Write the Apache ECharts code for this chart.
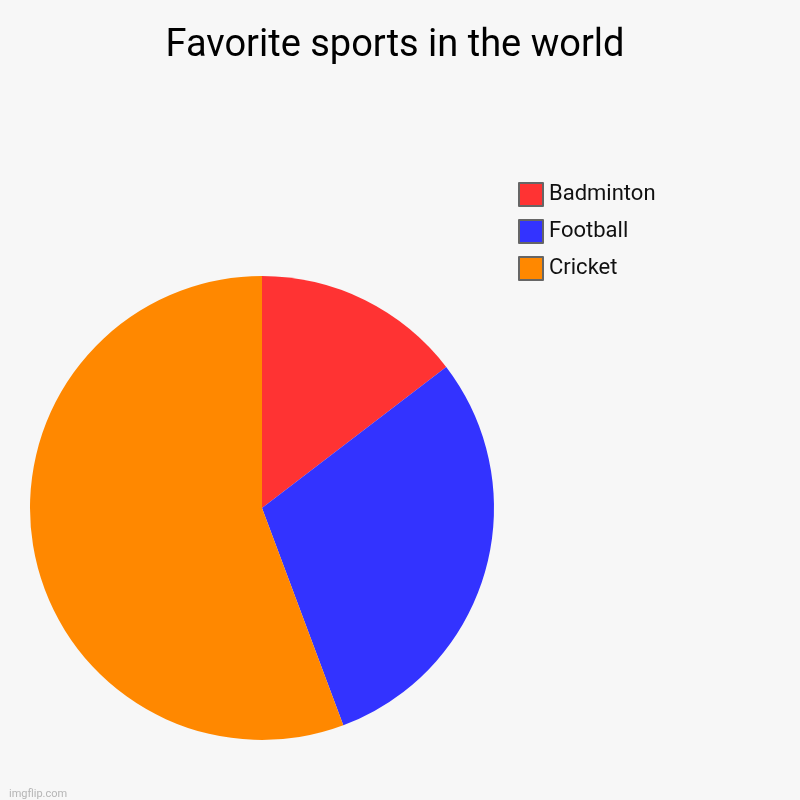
<!DOCTYPE html>
<html>
<head>
<meta charset="utf-8">
<script src="https://cdn.jsdelivr.net/npm/echarts@6/dist/echarts.min.js"></script>
<style>
html,body{margin:0;padding:0;background:#f7f7f7;}
#main{width:800px;height:800px;}
</style>
</head>
<body>
<div id="main"></div>
<script>
var categories = ['Badminton', 'Football', 'Cricket'];
var values = [14.6, 29.7, 55.7];
var colors = ['#ff3333', '#3333ff', '#ff8800'];

var chart = echarts.init(document.getElementById('main'));
var pieData = [];
for (var i = 0; i < categories.length; i++) {
  pieData.push({name: categories[i], value: values[i], itemStyle: {color: colors[i]}});
}
chart.setOption({
  backgroundColor: '#f7f7f7',
  animation: false,
  title: [{
    text: 'Favorite sports in the world',
    left: 390, top: 22, textAlign: 'center',
    textStyle: {fontFamily: 'Roboto', fontSize: 38, fontWeight: 'normal', color: '#000'}
  }, {
    text: 'imgflip.com',
    left: 4, top: 784,
    textStyle: {fontFamily: 'Roboto', fontSize: 11, fontWeight: 'normal', color: '#b5b5b5'}
  }],
  legend: {
    orient: 'vertical',
    left: 513, top: 177,
    itemWidth: 24, itemHeight: 23,
    itemGap: 12,
    icon: 'rect',
    data: categories,
    itemStyle: {borderColor: '#666', borderWidth: 2},
    textStyle: {fontFamily: 'Roboto', fontSize: 22, color: '#111', padding: [0, 0, 0, 1]}
  },
  series: [{
    type: 'pie',
    center: [262, 508],
    radius: 232,
    startAngle: 90,
    clockwise: true,
    label: {show: false},
    labelLine: {show: false},
    emphasis: {disabled: true},
    data: pieData
  }]
});
</script>
</body>
</html>
